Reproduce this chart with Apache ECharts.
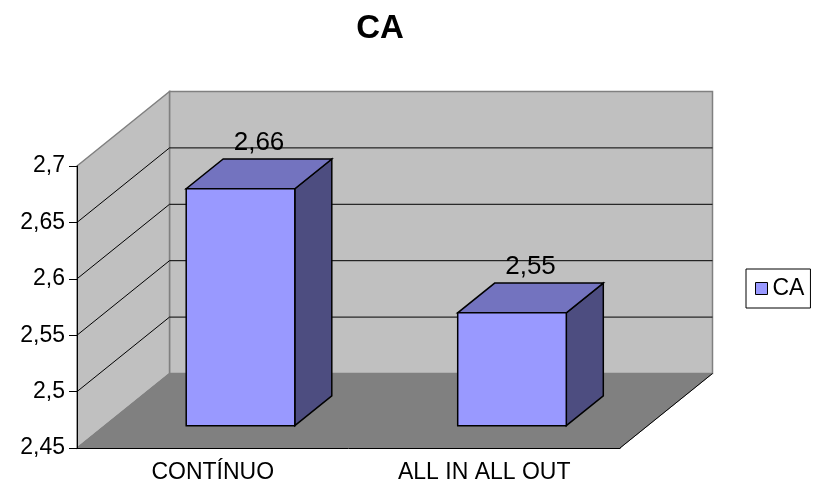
<!DOCTYPE html>
<html>
<head>
<meta charset="utf-8">
<script src="https://cdn.jsdelivr.net/npm/echarts@6/dist/echarts.min.js"></script>
<style>
html, body { margin: 0; padding: 0; background: #fff; }
#chart { width: 823px; height: 487px; }
</style>
</head>
<body>
<div id="chart"></div>
<script>
var categories = ['CONTÍNUO', 'ALL IN ALL OUT'];
var caValues = [2.66, 2.55];
var yTicks = [2.45, 2.5, 2.55, 2.6, 2.65, 2.7];

var FONT = "'Liberation Sans', Arial, sans-serif";
var D = [92.5, -74.5]; // depth vector of the 3d box

function comma(v) {
    return String(+v.toFixed(2)).replace('.', ',');
}

// back wall, side wall, floor and gridlines
function renderWalls(params, api) {
    var cs = params.coordSys;
    var x0 = cs.x, x1 = cs.x + cs.width;
    var yTop = cs.y, yBot = cs.y + cs.height;
    var dx = D[0], dy = D[1];
    var kids = [
        { type: 'polygon', shape: { points: [[x0 + dx, yTop + dy], [x1 + dx, yTop + dy], [x1 + dx, yBot + dy], [x0 + dx, yBot + dy]] },
          style: { fill: '#c0c0c0', stroke: '#808080', lineWidth: 1.5 } },
        { type: 'polygon', shape: { points: [[x0, yTop], [x0 + dx, yTop + dy], [x0 + dx, yBot + dy], [x0, yBot]] },
          style: { fill: '#c0c0c0', stroke: '#808080', lineWidth: 1.5 } },
        { type: 'polygon', shape: { points: [[x0, yBot], [x1, yBot], [x1 + dx, yBot + dy], [x0 + dx, yBot + dy]] },
          style: { fill: '#808080', stroke: '#808080', lineWidth: 1 } },
        { type: 'line', shape: { x1: x1, y1: yBot, x2: x1 + dx, y2: yBot + dy },
          style: { stroke: '#000', lineWidth: 1 } }
    ];
    yTicks.forEach(function (v, i) {
        if (i === 0 || i === yTicks.length - 1) return;
        var y = api.coord([0, v])[1];
        kids.push({ type: 'polyline', shape: { points: [[x0, y], [x0 + dx, y + dy], [x1 + dx, y + dy]] },
            style: { stroke: '#000', lineWidth: 1, fill: null } });
    });
    return { type: 'group', children: kids };
}

function renderBar(params, api) {
    var idx = api.value(0), v = api.value(1);
    var top = api.coord([idx, v]);
    var base = api.coord([idx, yTicks[0]]);
    var w = api.size([1, 0])[0] * 0.4;
    var L = top[0] - w / 2 + D[0] * 0.3, R = L + w;
    var T = top[1] + D[1] * 0.3, B = base[1] + D[1] * 0.3;
    var bx = D[0] * 0.4, by = D[1] * 0.4;
    var st = { stroke: '#000', lineWidth: 1.5 };
    return {
        type: 'group',
        children: [
            { type: 'polygon', shape: { points: [[R, T], [R + bx, T + by], [R + bx, B + by], [R, B]] },
              style: Object.assign({ fill: '#4d4d80' }, st) },
            { type: 'polygon', shape: { points: [[L, T], [R, T], [R + bx, T + by], [L + bx, T + by]] },
              style: Object.assign({ fill: '#7373bf' }, st) },
            { type: 'rect', shape: { x: L, y: T, width: w, height: B - T },
              style: Object.assign({ fill: '#9999ff' }, st) },
            { type: 'text', x: (L + R) / 2 + bx / 2, y: T - 46,
              style: { text: comma(v), fill: '#000', font: '26px ' + FONT, align: 'center', verticalAlign: 'middle' } }
        ]
    };
}

var chart = echarts.init(document.getElementById('chart'));
var option = {
    animation: false,
    backgroundColor: '#fff',
    title: {
        text: 'CA',
        left: 375,
        textAlign: 'center',
        top: 7,
        textStyle: { fontSize: 33, fontWeight: 'bold', color: '#000', fontFamily: FONT }
    },
    legend: {
        data: ['CA'],
        left: 746,
        top: 269,
        orient: 'vertical',
        padding: [8, 6, 8, 9],
        borderColor: '#000',
        borderWidth: 1,
        icon: 'rect',
        itemWidth: 12,
        itemHeight: 12,
        itemGap: 5,
        itemStyle: { borderColor: '#000', borderWidth: 1 },
        textStyle: { fontSize: 23, color: '#000', fontFamily: FONT }
    },
    grid: { left: 77, top: 166, width: 543, height: 282 },
    xAxis: {
        type: 'category',
        data: categories,
        z: 10,
        axisLine: { lineStyle: { color: '#000', width: 1 } },
        axisTick: { length: 7, lineStyle: { color: '#000' } },
        axisLabel: { fontSize: 23, color: '#000', margin: 13, fontFamily: FONT },
        splitLine: { show: false }
    },
    yAxis: {
        type: 'value',
        min: 2.45,
        max: 2.7,
        interval: 0.05,
        z: 10,
        axisLine: { show: true, lineStyle: { color: '#000', width: 1 } },
        axisTick: { show: true, length: 8, lineStyle: { color: '#000' } },
        axisLabel: { fontSize: 23, color: '#000', margin: 12, fontFamily: FONT, formatter: comma },
        splitLine: { show: false }
    },
    series: [
        {
            type: 'custom',
            name: 'walls',
            renderItem: renderWalls,
            data: [[0, yTicks[0]]],
            z: 1,
            silent: true
        },
        {
            type: 'custom',
            name: 'CA',
            renderItem: renderBar,
            itemStyle: { color: '#9999ff' },
            encode: { x: 0, y: 1 },
            data: caValues.map(function (v, i) { return [i, v]; }),
            z: 2
        }
    ]
};
chart.setOption(option);
</script>
</body>
</html>
